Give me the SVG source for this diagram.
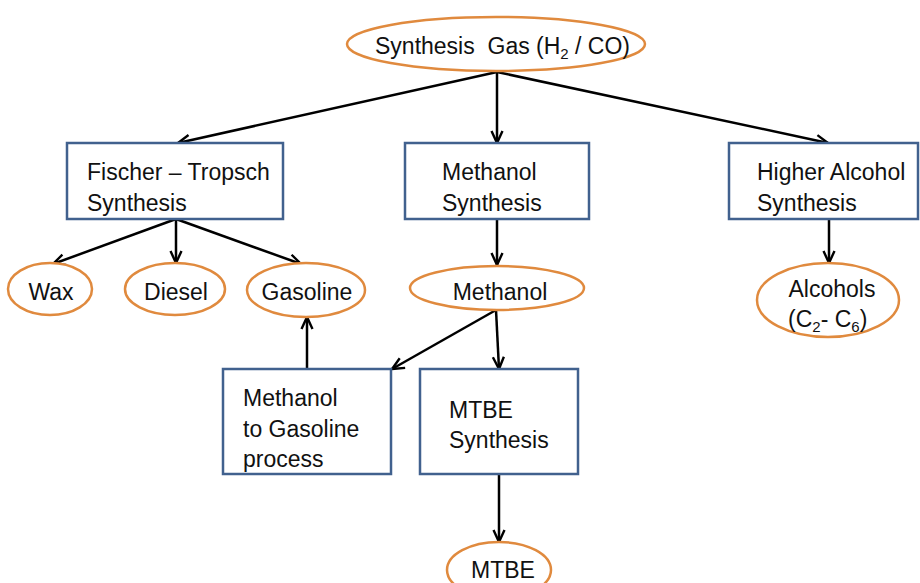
<svg xmlns="http://www.w3.org/2000/svg" width="920" height="583" viewBox="0 0 920 583">
<style>
.box{fill:#fff;stroke:#41618E;stroke-width:2.5}
.ell{fill:#fff;stroke:#E08A3E;stroke-width:2.5}
.t{font-family:"Liberation Sans",Arial,sans-serif;font-size:23px;fill:#111}
.m{text-anchor:middle}
.c{fill:none;stroke:#000;stroke-width:2.5}
</style>
<defs>
<marker id="ah" viewBox="0 0 14 14" refX="13" refY="7" markerWidth="14" markerHeight="14" markerUnits="userSpaceOnUse" orient="auto">
<path d="M1,1.5 L13,7 L1,12.5" fill="none" stroke="#000" stroke-width="2.4"/>
</marker>
</defs>
<rect width="920" height="583" fill="#fff"/>
<g id="connectors">
<line class="c" x1="497" y1="72" x2="178" y2="143" marker-end="url(#ah)"/>
<line class="c" x1="497" y1="72" x2="497" y2="143" marker-end="url(#ah)"/>
<line class="c" x1="497" y1="72" x2="828" y2="143" marker-end="url(#ah)"/>
<line class="c" x1="176" y1="219" x2="53" y2="264" marker-end="url(#ah)"/>
<line class="c" x1="176" y1="219" x2="176" y2="263" marker-end="url(#ah)"/>
<line class="c" x1="176" y1="219" x2="301" y2="264" marker-end="url(#ah)"/>
<line class="c" x1="497" y1="219" x2="497" y2="265" marker-end="url(#ah)"/>
<line class="c" x1="829" y1="219" x2="829" y2="263" marker-end="url(#ah)"/>
<line class="c" x1="496" y1="310" x2="392" y2="369" marker-end="url(#ah)"/>
<line class="c" x1="496" y1="310" x2="499" y2="369" marker-end="url(#ah)"/>
<line class="c" x1="307" y1="369" x2="307" y2="317" marker-end="url(#ah)"/>
<line class="c" x1="499" y1="474" x2="499" y2="542" marker-end="url(#ah)"/>
</g>
<g id="syngas">
<ellipse class="ell" cx="496" cy="44" rx="149" ry="27"/>
<text class="t" x="375" y="54">Synthesis&#160; Gas (H<tspan font-size="15" dy="5">2</tspan><tspan dy="-5"> / CO)</tspan></text>
</g>
<g id="ft">
<rect class="box" x="67" y="143" width="216" height="76"/>
<text class="t" x="87" y="180">Fischer – Tropsch</text>
<text class="t" x="87" y="211">Synthesis</text>
</g>
<g id="meoh-syn">
<rect class="box" x="405" y="143" width="184" height="76"/>
<text class="t" x="442" y="180">Methanol</text>
<text class="t" x="442" y="211">Synthesis</text>
</g>
<g id="hal">
<rect class="box" x="729" y="143" width="189" height="76"/>
<text class="t" x="757" y="180">Higher Alcohol</text>
<text class="t" x="757" y="211">Synthesis</text>
</g>
<g id="wax">
<ellipse class="ell" cx="50" cy="289" rx="42" ry="26"/>
<text class="t m" x="51" y="300">Wax</text>
</g>
<g id="diesel">
<ellipse class="ell" cx="175" cy="289" rx="50" ry="26"/>
<text class="t m" x="176" y="300">Diesel</text>
</g>
<g id="gasoline">
<ellipse class="ell" cx="306" cy="290" rx="59" ry="27"/>
<text class="t m" x="307" y="300">Gasoline</text>
</g>
<g id="methanol">
<ellipse class="ell" cx="497" cy="288" rx="87" ry="22"/>
<text class="t m" x="500" y="300">Methanol</text>
</g>
<g id="alcohols">
<ellipse class="ell" cx="828" cy="300" rx="71" ry="37"/>
<text class="t m" x="832" y="297">Alcohols</text>
<text class="t" x="788" y="327">(C<tspan font-size="15" dy="5">2</tspan><tspan dy="-5">- C</tspan><tspan font-size="15" dy="5">6</tspan><tspan dy="-5">)</tspan></text>
</g>
<g id="mtg">
<rect class="box" x="223" y="369" width="168" height="105"/>
<text class="t" x="243" y="406">Methanol</text>
<text class="t" x="243" y="437">to Gasoline</text>
<text class="t" x="243" y="467">process</text>
</g>
<g id="mtbe-syn">
<rect class="box" x="420" y="369" width="158" height="105"/>
<text class="t" x="449" y="418">MTBE</text>
<text class="t" x="449" y="448">Synthesis</text>
</g>
<g id="mtbe">
<ellipse class="ell" cx="499" cy="570" rx="52" ry="28"/>
<text class="t m" x="503" y="578">MTBE</text>
</g>
</svg>
